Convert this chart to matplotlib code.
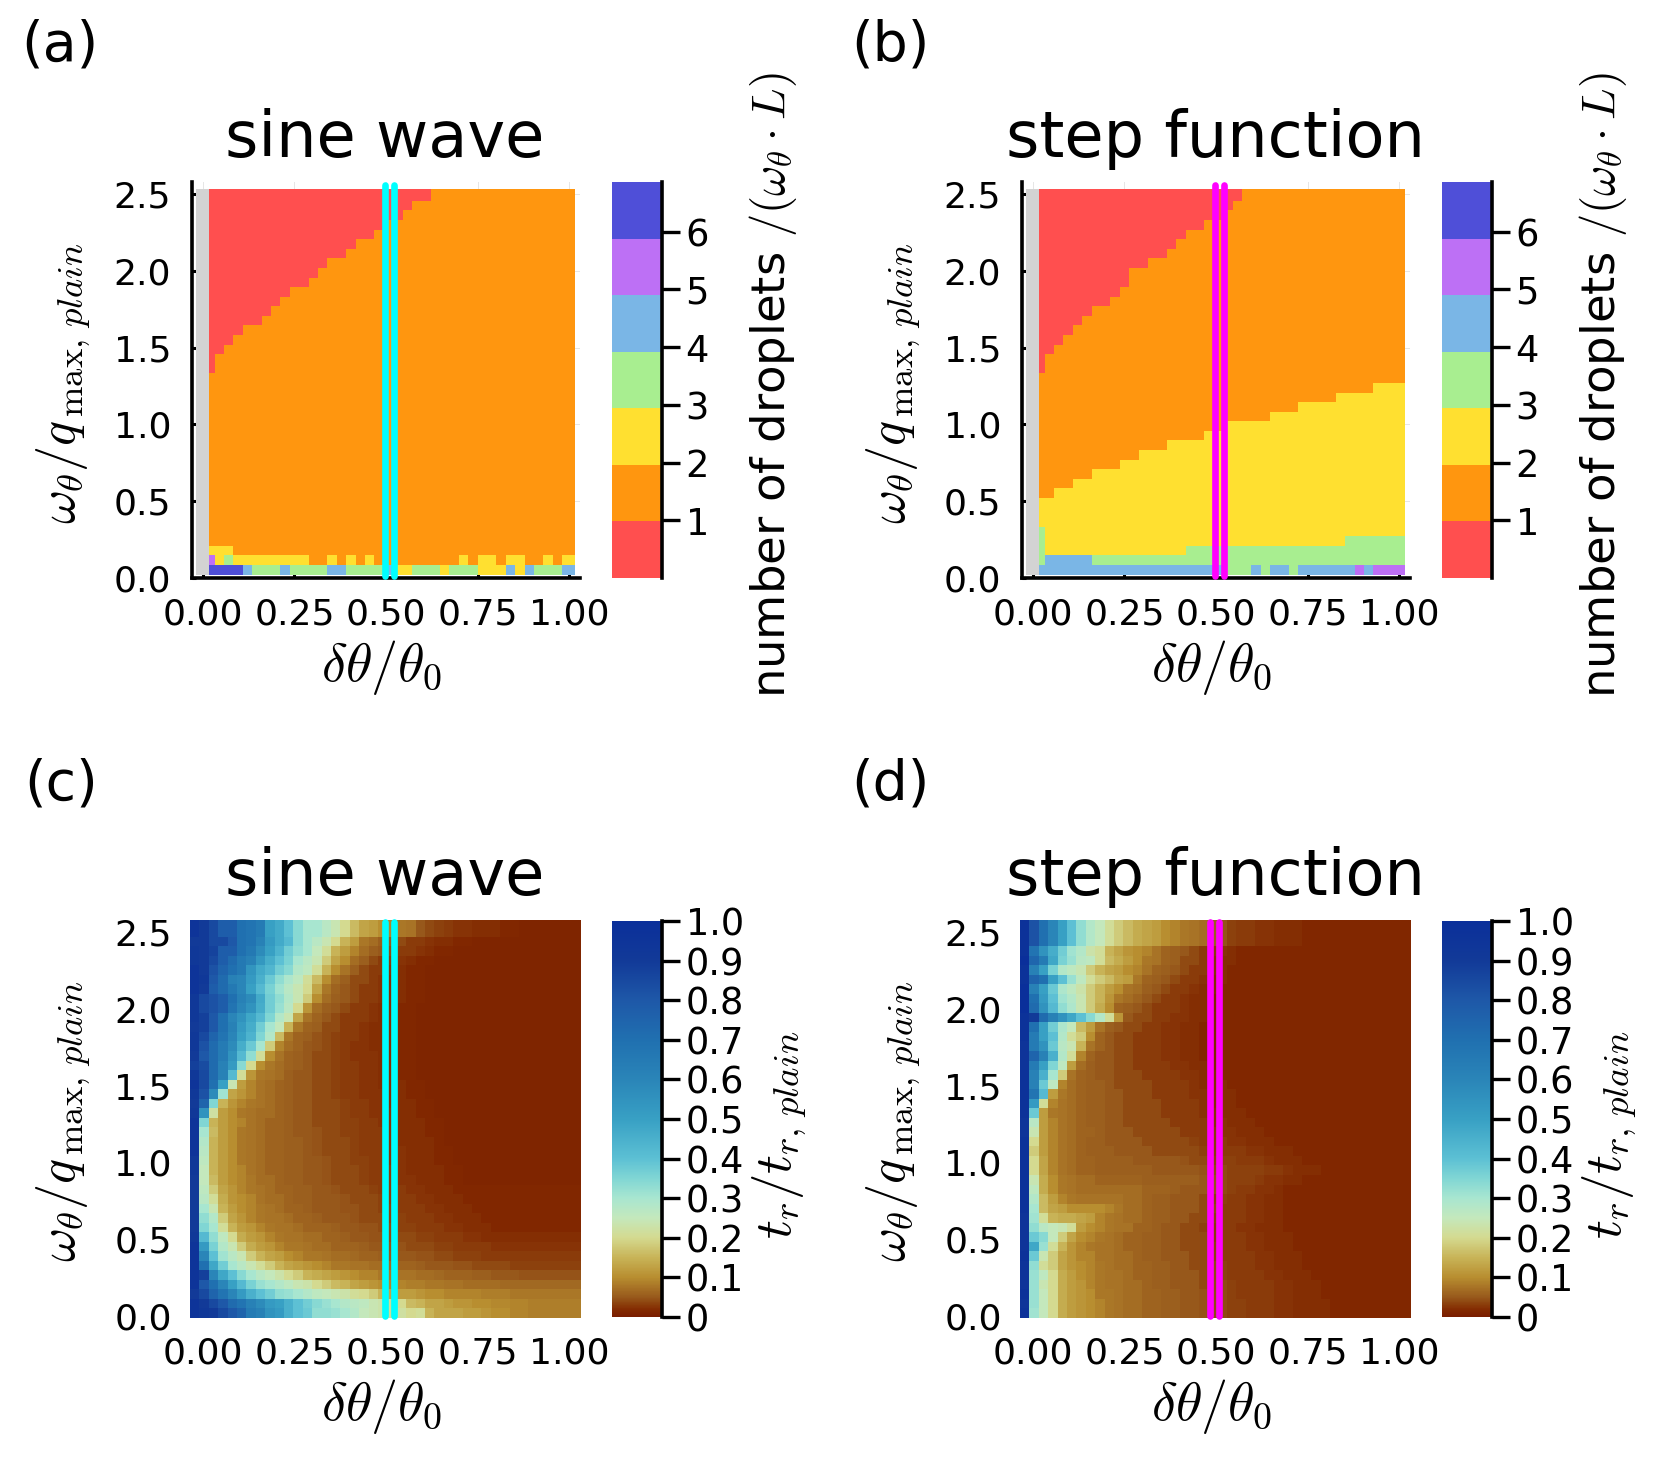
"""Droplet number and rupture time maps: sine wave vs step function."""

import numpy as np
import matplotlib

matplotlib.use("Agg")
import matplotlib.pyplot as plt
from matplotlib.cm import ScalarMappable
from matplotlib.colors import BoundaryNorm, LinearSegmentedColormap, ListedColormap

W, H = 1661, 1477

plt.rcParams["font.family"] = "DejaVu Sans"
plt.rcParams["mathtext.fontset"] = "cm"

X_TICKS = [0.0, 0.25, 0.5, 0.75, 1.0]
X_TICK_LABELS = ["0.00", "0.25", "0.50", "0.75", "1.00"]
Y_TICKS = [0.0, 0.5, 1.0, 1.5, 2.0, 2.5]
Y_TICK_LABELS = ["0.0", "0.5", "1.0", "1.5", "2.0", "2.5"]
TIME_TICKS = [0, 0.1, 0.2, 0.3, 0.4, 0.5, 0.6, 0.7, 0.8, 0.9, 1.0]
TIME_TICK_LABELS = ["0", "0.1", "0.2", "0.3", "0.4", "0.5", "0.6", "0.7", "0.8", "0.9", "1.0"]
COUNT_TICKS = [1, 2, 3, 4, 5, 6]

# 0 red, 1 orange, 2 yellow, 3 green, 4 blue, 5 purple, 6 indigo
COUNT_COLORS = ["#ff4f4f", "#ff960f", "#ffe030", "#a8ee90", "#7ab6e6", "#bd70f5", "#4f4fd8"]
TIME_STOPS = [
    (0.0, "#7a1e00"), (0.015, "#822800"), (0.03, "#8a3c0a"), (0.05, "#985a1c"), (0.1, "#b88e30"),
    (0.15, "#c8b458"), (0.2, "#d4da90"), (0.25, "#c4e8bc"), (0.3, "#a8e6d0"), (0.35, "#80d6d4"),
    (0.4, "#5cc0d4"), (0.5, "#38a0c4"), (0.6, "#2a85b8"), (0.7, "#2070b0"), (0.8, "#1e58a8"),
    (0.9, "#123a98"), (1.0, "#0a2f9a"),
]

# panel (a): first row that turns red per column, then the three lowest rows
A_RED_FROM = [21, 23, 24, 25, 26, 26, 27, 28, 29, 30, 30, 31, 32, 33, 33, 34, 35, 35, 36, 37, 37, 38, 39, 39,
              41, 41, 41, 41, 41, 41, 41, 41, 41, 41, 41, 41, 41, 41, 41]
A_ROW0 = [6, 6, 6, 6, 4, 3, 3, 3, 4, 3, 3, 3, 3, 4, 4, 3, 3, 3, 3, 4, 2, 2, 3, 3, 3, 2, 3, 3, 3, 2, 2, 2, 4, 2, 4, 3, 3, 3, 4]
A_ROW1 = [5, 2, 3, 2, 2, 2, 2, 2, 2, 2, 2, 1, 1, 2, 1, 2, 1, 2, 1, 1, 1, 1, 1, 1, 1, 1, 1, 2, 1, 2, 2, 1, 2, 2, 1, 1, 2, 1, 2]
A_ROW2 = [2, 2, 2] + [1] * 36

# panel (b): region limits per column, then the two lowest rows
B_RED_FROM = [21, 23, 24, 25, 26, 27, 28, 28, 29, 30, 32, 32, 33, 33, 34, 35, 36, 36, 37, 37, 38, 39,
              41, 41, 41, 41, 41, 41, 41, 41, 41, 41, 41, 41, 41, 41, 41, 41, 41]
B_YELLOW_TO = [8, 8, 9, 9, 10, 10, 11, 11, 11, 12, 12, 13, 13, 13, 14, 14, 14, 14, 15, 15, 16, 16, 16, 16, 16,
               17, 17, 17, 18, 18, 18, 18, 19, 19, 19, 19, 20, 20, 20]
B_GREEN_TO = [5] + [2] * 15 + [3] * 17 + [4] * 6
B_ROW0 = [4] * 20 + [3, 3, 3, 4, 3, 4, 4, 3, 4, 4, 4, 4, 4, 4, 5, 4, 5, 5, 5]
B_ROW1 = [3, 4, 4, 4, 4, 4] + [3] * 33

# panel (c): t_r/t_r,plain in percent, bottom row first (last value repeats to the right edge)
C_ROWS = [
    [95, 92, 90, 85, 80, 75, 65, 62, 55, 52, 45, 40, 38, 33, 33, 32, 30, 28, 25, 24, 23, 21, 22, 20, 21, 15, 13, 13, 13, 12, 12, 11, 10, 10, 9, 9, 8.5],
    [95, 90, 85, 80, 72, 68, 62, 58, 52, 50, 45, 40, 37, 34, 32, 30, 28, 27, 26, 24, 23, 21, 20, 16, 15, 13, 13, 12, 11, 11, 10, 10, 9.5, 9.5, 9, 9, 8.5],
    [90, 85, 75, 68, 60, 52, 45, 40, 37, 33, 32, 30, 28, 26, 25, 24, 23, 21, 20, 18, 15, 13, 12, 12, 11, 10, 10, 9, 9, 9, 9, 8.5, 8.5, 8.5, 8],
    [95, 80, 70, 60, 50, 42, 36, 32, 30, 28, 26, 24, 23, 20, 18, 16, 15, 13, 12, 11, 10, 9, 9, 8.5, 8.5, 8, 8, 7.5, 7.5, 7, 7, 7, 7, 6.5],
    [95, 88, 60, 48, 40, 34, 30, 27, 25, 23, 20, 18, 15, 14, 13, 12, 11, 10, 9, 9, 8, 8, 7.5, 7.5, 7, 7, 6.5, 6, 6, 6, 5.5, 5.5, 5, 5, 5, 4.5],
    [95, 70, 48, 37, 30, 27, 24, 21, 18, 15, 13, 12, 11, 10, 9, 8, 8, 7.5, 7.5, 7, 7, 6.5, 6, 6, 5.5, 5, 5, 5, 4.5, 4.5, 4, 4, 4, 4, 3.5],
    [95, 60, 40, 31, 27, 24, 18, 15, 13, 12, 10, 9, 8, 8, 7.5, 7, 7, 6.5, 6, 6, 5.5, 5, 5, 5, 4.5, 4.5, 4, 4, 3.5, 3.5, 3.5, 3, 3, 3],
    [95, 52, 36, 28, 24, 18, 14, 12, 11, 9, 8, 8, 7.5, 7, 7, 6, 6, 6, 5.5, 5, 5, 4.5, 4.5, 4, 4, 4, 3.5, 3.5, 3, 3, 3, 3, 2.5],
    [92, 42, 33, 26, 20, 14, 12, 11, 9, 8, 7.5, 7.5, 7, 7, 6, 6, 5.5, 5, 5, 4.5, 4.5, 4, 4, 4, 3.5, 3.5, 3, 3, 3, 2.5, 2.5, 2],
    [90, 35, 30, 21, 15, 12, 11, 9, 8, 7.5, 7.5, 7, 6, 6, 6, 5.5, 5, 5, 4.5, 4.5, 4, 4, 3.5, 3.5, 3, 3, 3, 2.5, 2.5, 2, 2, 2, 1.5],
    [90, 33, 28, 18, 13, 11, 9, 8, 7.5, 7.5, 7, 6, 6, 5.5, 5, 5, 5, 4.5, 4, 4, 4, 3.5, 3.5, 3, 3, 3, 2.5, 2.5, 2, 2, 2, 1.5],
    [90, 30, 24, 15, 12, 10, 9, 8, 7.5, 7, 6, 6, 5.5, 5, 5, 5, 4.5, 4.5, 4, 4, 3.5, 3.5, 3, 3, 3, 2.5, 2.5, 2, 2, 2, 1.5],
    [90, 27, 21, 14, 11, 10, 9, 7.5, 7, 7, 6, 5.5, 5.5, 5, 5, 5, 4.5, 4, 4, 4, 3.5, 3, 3, 3, 2.5, 2.5, 2, 2, 2, 1.5],
    [90, 26, 18, 13, 11, 9, 8, 7.5, 7, 6, 6, 5.5, 5.5, 5, 5, 4.5, 4, 4, 4, 3.5, 3, 3, 3, 2.5, 2.5, 2, 2, 2, 1.5],
    [90, 25, 16, 12, 10, 9, 8, 7, 7, 6, 5.5, 5.5, 5, 5, 4.5, 4, 4, 4, 3.5, 3, 3, 3, 2.5, 2.5, 2, 2, 2, 1.5, 1.5, 1],
    [92, 25, 15, 12, 10, 9, 7.5, 7, 6, 6, 5.5, 5.5, 5, 5, 4.5, 4, 4, 4, 3.5, 3, 3, 3, 2.5, 2, 2, 2, 2, 1.5, 1.5, 1],
    [92, 26, 15, 12, 10, 8, 7.5, 7, 6, 6, 5.5, 5.5, 5, 5, 4.5, 4, 4, 3.5, 3.5, 3, 3, 2.5, 2.5, 2, 2, 2, 1.5, 1.5, 1],
    [95, 27, 15, 12, 10, 8, 7.5, 7, 6, 6, 5.5, 5.5, 5, 4.5, 4, 4, 4, 3.5, 3, 3, 3, 2.5, 2.5, 2, 2, 2, 1.5, 1.5, 1],
    [95, 28, 15, 12, 10, 8, 7.5, 7, 6, 6, 5.5, 5.5, 5, 4.5, 4, 4, 4, 3.5, 3, 3, 3, 2.5, 2, 2, 2, 2, 1.5, 1, 1],
    [95, 30, 16, 12, 10, 8, 7.5, 7, 6, 6, 5.5, 5, 5, 4.5, 4, 4, 3.5, 3.5, 3, 3, 3, 2.5, 2, 2, 2, 1.5, 1.5, 1],
    [95, 35, 15, 12, 10, 9, 7.5, 7, 6, 6, 5.5, 5, 5, 4, 4, 4, 3.5, 3.5, 3, 3, 2.5, 2.5, 2, 2, 2, 1.5, 1.5, 1],
    [92, 55, 22, 12, 10, 8, 7.5, 7, 7, 6, 5.5, 5, 5, 4, 4, 4, 3.5, 3, 3, 2.5, 2.5, 2.5, 2, 2, 1.5, 1.5, 1],
    [90, 75, 35, 15, 11, 9, 8, 7.5, 7, 6, 5.5, 5, 5, 4, 4, 4, 3.5, 3, 3, 2.5, 2.5, 2, 2, 2, 1.5, 1.5, 1],
    [92, 82, 58, 31, 13, 11, 9, 7.5, 7, 6, 5.5, 5, 5, 4, 4, 3.5, 3, 3, 2.5, 2.5, 2.5, 2, 2, 1.5, 1.5, 1],
    [95, 85, 70, 50, 24, 12, 9, 7.5, 7, 6, 5.5, 5, 5, 4, 4, 3.5, 3, 3, 2.5, 2.5, 2, 2, 2, 1.5, 1.5, 1],
    [92, 85, 72, 62, 42, 21, 11, 8, 7.5, 7, 5.5, 5, 5, 4, 4, 3.5, 3, 3, 2.5, 2.5, 2, 2, 1.5, 1.5, 1],
    [88, 84, 72, 62, 52, 34, 20, 10, 8, 7, 6, 5.5, 5, 4, 4, 3.5, 3, 3, 2.5, 2.5, 2, 2, 1.5, 1.5, 1],
    [90, 80, 72, 65, 55, 42, 33, 21, 10, 7.5, 6, 5.5, 5, 4, 4, 3.5, 3, 2.5, 2.5, 2.5, 2, 2, 1.5, 1.5, 1],
    [92, 82, 72, 65, 58, 46, 38, 30, 18, 9, 7, 6, 5, 4.5, 4, 3.5, 3, 2.5, 2.5, 2, 2, 2, 1.5, 1.5, 1],
    [92, 85, 75, 68, 60, 50, 44, 35, 28, 16, 8, 6, 5.5, 4.5, 4, 3.5, 3, 3, 2.5, 2, 2, 2, 1.5, 1.5, 1],
    [90, 88, 80, 70, 62, 52, 46, 37, 30, 25, 15, 8, 6, 5.5, 4, 4, 3, 3, 2.5, 2, 2, 2, 1.5, 1.5, 1],
    [92, 88, 80, 70, 60, 55, 48, 42, 35, 28, 24, 13, 7.5, 6, 5, 4, 3, 3, 3, 2.5, 2, 2, 1.5, 1.5, 1],
    [92, 85, 82, 78, 68, 60, 55, 46, 37, 32, 27, 20, 11, 7, 5.5, 5, 4, 3, 3, 2.5, 2, 2, 1.5, 1.5, 1],
    [92, 85, 82, 78, 70, 62, 58, 47, 37, 33, 28, 24, 18, 10, 7, 5.5, 5, 4, 3, 3, 2.5, 2, 2, 1.5, 1.5, 1],
    [95, 90, 78, 72, 66, 60, 50, 42, 36, 31, 27, 24, 20, 13, 8, 6, 5, 4, 3, 3, 2.5, 2, 2, 1.5, 1.5, 1],
    [95, 92, 80, 72, 62, 60, 52, 45, 38, 33, 29, 26, 21, 16, 10, 7, 5.5, 4, 4, 3, 2.5, 2, 2, 1.5, 1.5, 1],
    [95, 90, 82, 75, 70, 66, 54, 47, 43, 37, 34, 28, 26, 21, 15, 10, 7.5, 5.5, 4, 3, 3, 2.5, 2, 1.5, 1.5, 1],
    [92, 90, 85, 78, 72, 66, 62, 53, 46, 40, 36, 30, 27, 24, 18, 13, 10, 7, 5.5, 4, 3, 3, 2.5, 2, 1.5, 1.5, 1],
    [92, 90, 87, 78, 78, 70, 66, 58, 50, 44, 37, 33, 30, 25, 21, 15, 12, 9, 7, 5.5, 5, 4, 3, 3, 2.5, 2, 1.5, 1.5, 1],
    [90, 90, 85, 85, 80, 70, 68, 62, 52, 47, 42, 34, 30, 27, 24, 20, 15, 12, 8, 7, 5.5, 5, 4, 3, 3, 2.5, 2, 2, 1.5, 1.5, 1],
    [95, 90, 85, 78, 78, 70, 68, 65, 50, 47, 40, 34, 30, 30, 27, 24, 20, 16, 13, 12, 10, 9, 8, 7.5, 5, 4, 3.5, 3, 2.5, 2.5, 2, 2, 2, 1.5, 1.5, 1],
    [95, 90, 85, 78, 78, 70, 68, 65, 50, 47, 40, 34, 30, 30, 27, 24, 20, 16, 13, 12, 10, 9, 8, 7.5, 5, 4, 3.5, 3, 2.5, 2.5, 2, 2, 2, 1.5, 1.5, 1],
]

# panel (d): same layout as C_ROWS
D_ROWS = [
    [97, 31, 25, 20, 14, 12, 11, 10, 9, 8, 7.5, 7, 7, 6, 6, 5.5, 5.5, 5, 5, 4.5, 4, 4, 3.5, 3.5, 3, 3, 3, 2.5, 2.5, 2, 2, 2, 2, 1.5],
    [95, 32, 25, 20, 14, 12, 11, 10, 9, 8, 7.5, 7, 7, 6, 6, 5.5, 5.5, 5, 5, 4.5, 4, 4, 3.5, 3.5, 3, 3, 3, 2.5, 2.5, 2, 2, 2, 2, 1.5],
    [97, 32, 25, 20, 14, 12, 11, 10, 8, 8, 7.5, 7, 7, 6, 6, 5.5, 5.5, 5, 5, 4.5, 4, 4, 3.5, 3, 3, 3, 3, 2.5, 2.5, 2, 2, 2, 1.5],
    [95, 32, 24, 20, 14, 12, 11, 9, 8, 7.5, 7.5, 7, 7, 6, 5.5, 5.5, 5, 5, 5, 4, 4, 4, 3.5, 3, 3, 3, 3, 2.5, 2.5, 2, 2, 2, 1.5],
    [95, 32, 26, 20, 14, 12, 10, 9, 8, 7.5, 7.5, 7, 6, 6, 5.5, 5.5, 5, 5, 5, 4, 4, 3.5, 3, 3, 3, 3, 2.5, 2.5, 2, 2, 2, 1.5],
    [95, 33, 21, 18, 13, 11, 10, 9, 8, 7.5, 7, 7, 6, 6, 5.5, 5.5, 5, 5, 4, 4, 4, 3.5, 3, 3, 3, 2.5, 2.5, 2, 2, 2, 1.5],
    [97, 38, 24, 18, 13, 11, 9, 9, 7.5, 7.5, 7, 7, 6, 5.5, 5.5, 5, 5, 5, 4, 4, 3.5, 3, 3, 3, 3, 2.5, 2.5, 2, 2, 2, 1.5],
    [95, 48, 32, 21, 15, 11, 9, 8, 7.5, 7.5, 7, 6, 6, 5.5, 5.5, 5, 5, 4, 4, 4, 3.5, 3, 3, 3, 2.5, 2.5, 2, 2, 2, 1.5],
    [95, 38, 34, 25, 18, 13, 10, 9, 8, 7.5, 7, 6, 6, 5.5, 5.5, 5, 5, 4, 4, 4, 3, 3, 3, 3, 2.5, 2.5, 2, 2, 2, 1.5],
    [95, 33, 27, 25, 24, 21, 12, 10, 9, 8, 7.5, 7.5, 6, 6, 5.5, 5, 5, 4, 4, 3.5, 3, 3, 3, 2.5, 2.5, 2, 2, 2, 1.5],
    [95, 31, 21, 15, 14, 14, 13, 12, 9, 8, 7.5, 7, 7, 6, 5.5, 5.5, 5, 5, 4, 4, 3.5, 3, 3, 3, 2.5, 2.5, 2, 2, 1.5],
    [97, 30, 16, 13, 12, 10, 10, 10, 10, 9, 8, 7, 7, 6, 5.5, 5.5, 5, 5, 5, 4, 4, 3, 3, 3, 2.5, 2.5, 2, 2, 1.5],
    [97, 28, 16, 12, 9, 8, 7.5, 7.5, 7.5, 7.5, 7.5, 7, 7, 6, 5.5, 5.5, 5, 5, 5, 4, 3.5, 3.5, 3, 3, 2.5, 2.5, 2, 2, 1.5],
    [97, 26, 14, 10, 8, 7.5, 7, 7, 7, 7, 7, 7, 7, 6, 6, 6, 5.5, 5, 5, 5, 4.5, 4, 3.5, 3, 3, 2.5, 2.5, 2, 1.5],
    [97, 24, 14, 10, 8, 7.5, 7, 7, 6, 6, 6, 6, 6, 5.5, 5.5, 5.5, 5.5, 5.5, 5.5, 5, 4.5, 4, 3.5, 3.5, 3.5, 3, 2.5, 2.5, 2, 2, 1.5],
    [97, 20, 13, 9, 7.5, 7, 6, 6, 5.5, 5.5, 5.5, 5.5, 5.5, 5.5, 5, 5, 5, 5, 5, 4.5, 4, 4, 3.5, 3.5, 3.5, 3.5, 3, 3, 2.5, 2, 2, 2, 1.5],
    [97, 20, 13, 9, 7.5, 7, 6, 6, 5.5, 5.5, 5.5, 5.5, 5, 5, 5, 5, 5, 4.5, 4, 4, 3.5, 3.5, 3.5, 3, 3, 3, 2.5, 2, 2, 2, 1.5],
    [97, 18, 12, 9, 7.5, 7, 6, 5.5, 5.5, 5.5, 5, 5, 5, 5, 4, 4, 4, 4, 4, 3.5, 3, 3, 3, 3, 2.5, 2.5, 2, 2, 2, 1.5],
    [97, 20, 12, 9, 7.5, 7, 6, 5.5, 5.5, 5, 5, 5, 5, 4, 4, 4, 4, 4, 3.5, 3, 3, 3, 2.5, 2.5, 2, 2, 2, 1.5],
    [95, 24, 12, 9, 7.5, 7, 6, 6, 5.5, 5, 5, 5, 4, 4, 4, 4, 4, 3, 3, 3, 3, 2.5, 2.5, 2, 2, 2, 1.5],
    [95, 27, 12, 9, 7.5, 7, 6, 5.5, 5.5, 5, 5, 4, 4, 4, 4, 4, 3, 3, 3, 3, 2.5, 2.5, 2, 2, 2, 1.5],
    [97, 38, 12, 8, 7.5, 7, 6, 5.5, 5.5, 5, 5, 4, 4, 4, 4, 3, 3, 3, 3, 2.5, 2.5, 2, 2, 2, 1.5],
    [97, 52, 21, 9, 7.5, 7, 6, 5.5, 5.5, 5, 5, 4, 4, 4, 4, 3, 3, 3, 3, 2.5, 2, 2, 2, 1.5],
    [97, 68, 42, 12, 8, 7, 6, 5.5, 5.5, 5, 5, 4, 4, 4, 3, 3, 3, 3, 2.5, 2.5, 2, 2, 2, 1.5],
    [97, 62, 38, 26, 9, 7, 6, 5.5, 5.5, 5, 4, 4, 4, 4, 3, 3, 3, 3, 2.5, 2, 2, 2, 1.5],
    [97, 62, 45, 30, 18, 7.5, 6, 5.5, 5, 5, 4, 4, 4, 3, 3, 3, 3, 2.5, 2.5, 2, 2, 1.5],
    [95, 65, 50, 35, 26, 12, 7, 5.5, 5, 5, 4, 4, 3, 3, 3, 3, 2.5, 2.5, 2, 2, 1.5],
    [95, 75, 62, 45, 28, 21, 9, 6, 5, 5, 4, 4, 3, 3, 3, 2.5, 2.5, 2, 2, 1.5],
    [95, 65, 55, 38, 27, 24, 15, 7.5, 6, 5, 4, 4, 3, 3, 3, 2.5, 2.5, 2, 2, 1.5],
    [97, 65, 50, 40, 28, 21, 18, 10, 6, 5, 4, 4, 3, 3, 3, 2.5, 2.5, 2, 2, 1.5],
    [97, 70, 50, 37, 29, 25, 16, 12, 7.5, 5.5, 5, 4, 4, 3, 3, 2.5, 2.5, 2, 2, 1.5],
    [97, 90, 72, 62, 55, 48, 40, 34, 28, 21, 11, 5, 4, 4, 3, 3, 2.5, 2.5, 2, 2, 1.5],
    [100, 72, 55, 42, 33, 29, 24, 18, 14, 10, 6, 5.5, 5, 4, 3, 3, 3, 2.5, 2, 2, 1.5],
    [100, 70, 52, 40, 31, 28, 24, 18, 15, 11, 8, 7, 6, 5, 4, 3, 3, 2.5, 2, 2, 1.5],
    [100, 62, 50, 38, 29, 26, 23, 18, 15, 12, 10, 7.5, 7, 5.5, 5, 4, 3, 3, 2.5, 2, 2, 1.5],
    [97, 75, 70, 50, 40, 32, 26, 21, 18, 16, 13, 12, 8, 6, 5.5, 5, 4, 3, 3, 2.5, 2, 2, 1.5],
    [97, 62, 50, 36, 28, 26, 24, 18, 15, 13, 12, 10, 9, 7.5, 6, 5.5, 5, 4, 3, 3, 2.5, 2, 1.5],
    [100, 74, 65, 48, 36, 32, 27, 26, 21, 16, 14, 12, 10, 8, 7.5, 6, 5.5, 4, 4, 3, 2.5, 2, 2, 1.5],
    [97, 68, 55, 46, 37, 31, 28, 23, 21, 15, 13, 11, 10, 9, 7.5, 6, 5.5, 5, 4, 3, 3, 2.5, 2, 1.5],
    [97, 82, 70, 60, 50, 40, 33, 28, 25, 21, 18, 16, 14, 13, 12, 10, 9, 8, 7.5, 7, 5.5, 4.5, 3.5, 3, 3, 2.5, 2.5, 2, 2, 2, 1.5],
    [97, 82, 70, 60, 50, 40, 33, 28, 25, 21, 18, 16, 14, 13, 12, 10, 9, 8, 7.5, 7, 5.5, 4.5, 3.5, 3, 3, 2.5, 2.5, 2, 2, 2, 1.5],
    [97, 82, 70, 60, 50, 40, 33, 28, 25, 21, 18, 16, 14, 13, 12, 10, 9, 8, 7.5, 7, 5.5, 4.5, 3.5, 3, 3, 2.5, 2.5, 2, 2, 2, 1.5],
]

OMEGA_LABEL = r"$\omega_\theta/q_{\,\max,\,plain}$"
DELTA_LABEL = r"$\delta\theta/\theta_0$"
COUNT_LABEL = r"number of droplets $/(\omega_\theta\cdot L)$"
TIME_LABEL = r"$t_r/t_{r,\,plain}$"


def px_axes(fig, x0, y0, x1, y1):
    """Axes from pixel corners measured on the reference (y downward)."""
    return fig.add_axes([x0 / W, 1 - y1 / H, (x1 - x0) / W, (y1 - y0) / H])


def px_text(fig, x, y, s, **kw):
    fig.text(x / W, 1 - y / H, s, **kw)


def count_table(red_from, rows_low, yellow_to=None, green_to=None):
    """Droplet classes per cell, built up from the per-column limits."""
    table = np.ones((41, 39), dtype=int)
    for col in range(39):
        table[red_from[col]:, col] = 0
        if yellow_to is not None:
            table[:yellow_to[col], col] = 2
            table[:green_to[col], col] = 3
        for row, values in enumerate(rows_low):
            table[row, col] = values[col]
    return table


def time_table(rows):
    return np.array([r + [r[-1]] * (42 - len(r)) for r in rows]) / 100


def style_axes(ax, xlim, ylim, boxed):
    ax.set_xlim(xlim)
    ax.set_ylim(ylim)
    ax.set_xticks(X_TICKS, X_TICK_LABELS)
    ax.set_yticks(Y_TICKS, Y_TICK_LABELS)
    ax.spines[["top", "right"]].set_visible(False)
    ax.set_axisbelow(True)
    ax.grid(color="black", alpha=0.1, linewidth=0.7)
    if boxed:
        ax.spines[["left", "bottom"]].set_linewidth(2.6)
        ax.tick_params(direction="in", length=3, width=2.2, labelsize=26)
        ax.tick_params(axis="x", pad=14)
        ax.tick_params(axis="y", pad=15)
    else:
        ax.spines[["left", "bottom"]].set_visible(False)
        ax.tick_params(length=0, labelsize=26)
        ax.tick_params(axis="x", pad=13)
        ax.tick_params(axis="y", pad=13)


def draw_lines(ax, xs, color, y0, y1):
    for x in xs:
        ax.plot([x, x], [y0, y1], color=color, lw=4.8, solid_capstyle="round", clip_on=False, zorder=5)


def style_cbar(cb, ticks, labels=None):
    cb.outline.set_visible(False)
    cb.ax.yaxis.set_ticks_position("right")
    cb.ax.spines["right"].set_visible(True)
    cb.ax.spines["right"].set_linewidth(2.6)
    cb.set_ticks(ticks, labels=labels)
    cb.ax.minorticks_off()
    cb.ax.tick_params(length=13, width=2.4, labelsize=26.5, pad=4)


def count_panel(fig, dx, table, xs, color):
    ax = px_axes(fig, 192 + dx, 182, 580 + dx, 578)
    style_axes(ax, (-0.030, 1.030), (0, 2.578), True)
    # cell edges: first column is cut by the grey strip, top row by the data limit
    x_edges = np.r_[0.0155, 0.0319 + 0.02566 * np.arange(38), 1.0155]
    y_edges = np.r_[0.0217 + 0.0624 * np.arange(41), 2.535]
    ax.fill_betweenx([0.0217, 2.535], -0.020, 0.0155, color="#d3d3d3", lw=0)
    cmap = ListedColormap(COUNT_COLORS)
    ax.pcolormesh(x_edges, y_edges, table, cmap=cmap, norm=BoundaryNorm(np.arange(8) - 0.5, 7))
    draw_lines(ax, xs, color, 0.01, 2.56)

    cax = px_axes(fig, 612 + dx, 182, 662 + dx, 578)
    bounds = np.linspace(0, 6.86, 8)
    mappable = ScalarMappable(norm=BoundaryNorm(bounds, 7), cmap=cmap)
    cb = fig.colorbar(mappable, cax=cax, spacing="proportional")
    style_cbar(cb, COUNT_TICKS)


def time_panel(fig, dx, table, xs, color):
    ax = px_axes(fig, 190 + dx, 920, 581 + dx, 1318)
    style_axes(ax, (-0.0355, 1.0328), (-0.013, 2.578), False)
    x_edges = -0.0355 + 0.02568 * np.arange(43)
    y_edges = -0.013 + 0.06207 * np.arange(43)
    cmap = LinearSegmentedColormap.from_list("time", TIME_STOPS, N=512)
    mesh = ax.pcolormesh(x_edges, y_edges, table, cmap=cmap, vmin=0, vmax=1)
    draw_lines(ax, xs, color, 0.0, 2.565)

    cax = px_axes(fig, 612 + dx, 921, 662 + dx, 1317)
    cb = fig.colorbar(mesh, cax=cax)
    style_cbar(cb, TIME_TICKS, TIME_TICK_LABELS)


def add_labels(fig, dx, dy, title, tag, tag_x, cbar_label, cbar_x, cbar_y, cbar_size):
    px_text(fig, tag_x, 46 + dy, tag, fontsize=40, ha="center", va="center")
    px_text(fig, 385 + dx, 157 + dy, title, fontsize=46, ha="center", va="baseline")
    px_text(fig, 382 + dx, 668 + dy, DELTA_LABEL, fontsize=39, ha="center", va="center")
    px_text(fig, 64 + dx, 383 + dy, OMEGA_LABEL, fontsize=37.5, rotation=90, ha="center", va="center")
    px_text(fig, cbar_x + dx, cbar_y, cbar_label, fontsize=cbar_size, rotation=90, ha="center", va="center")


def main():
    fig = plt.figure(figsize=(W / 100, H / 100), dpi=100)

    count_panel(fig, 0, count_table(A_RED_FROM, [A_ROW0, A_ROW1, A_ROW2]), [0.498, 0.523], "#00ffff")
    count_panel(fig, 830, count_table(B_RED_FROM, [B_ROW0, B_ROW1], B_YELLOW_TO, B_GREEN_TO),
                [0.497, 0.522], "#ff00ff")
    time_panel(fig, 0, time_table(C_ROWS), [0.498, 0.523], "#00ffff")
    time_panel(fig, 830, time_table(D_ROWS), [0.484, 0.509], "#ff00ff")

    add_labels(fig, 0, 0, "sine wave", "(a)", 60, COUNT_LABEL, 773, 385, 33.5)
    add_labels(fig, 830, 0, "step function", "(b)", 890, COUNT_LABEL, 773, 385, 33.5)
    add_labels(fig, 0, 738, "sine wave", "(c)", 61, TIME_LABEL, 780, 1135, 38)
    add_labels(fig, 830, 738, "step function", "(d)", 890, TIME_LABEL, 780, 1135, 38)

    fig.savefig("out.png", dpi=100)


if __name__ == "__main__":
    main()
